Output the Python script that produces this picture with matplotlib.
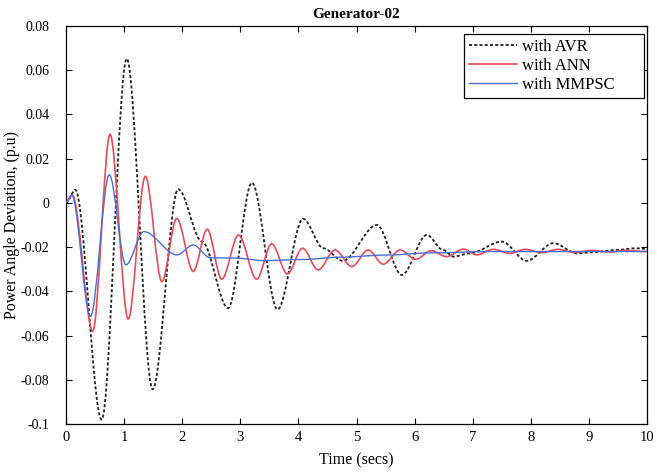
import matplotlib
matplotlib.use("Agg")
import matplotlib.pyplot as plt
from matplotlib.path import Path
from matplotlib.patches import PathPatch
from matplotlib.lines import Line2D

# turning points (time in s, deviation in p.u.)
avr_t = [0.0, 0.16, 0.614, 1.045, 1.49, 1.93, 2.34, 2.79, 3.20, 3.64, 4.08, 4.43,
         4.76, 5.35, 5.78, 6.21, 6.49, 6.67, 6.95, 7.50, 7.93, 8.39, 8.79, 9.10,
         9.50, 9.82, 10.0]
avr_v = [0.0, 0.0059, -0.098, 0.0652, -0.0843, 0.0062, -0.0175, -0.0476, 0.0091,
         -0.0482, -0.0072, -0.0205, -0.0262, -0.0100, -0.0326, -0.0145, -0.0213,
         -0.0243, -0.0228, -0.0175, -0.0262, -0.0182, -0.0228, -0.0222, -0.0212,
         -0.0205, -0.0208]

ann_t = [0.0, 0.11, 0.46, 0.757, 1.07, 1.365, 1.65, 1.905, 2.19, 2.43, 2.68, 2.97,
         3.28, 3.54, 3.81, 4.07, 4.34, 4.63, 4.92, 5.20, 5.46, 5.75, 6.02, 6.29,
         6.55, 6.84, 7.07, 7.35, 7.64, 7.90, 8.19, 8.47, 8.76, 9.05, 9.35, 9.65, 10.0]
ann_v = [0.0005, 0.0036, -0.058, 0.031, -0.0525, 0.012, -0.0356, -0.007, -0.031,
         -0.0119, -0.0345, -0.0145, -0.0345, -0.0185, -0.0321, -0.0205, -0.0303,
         -0.0213, -0.0288, -0.0213, -0.0277, -0.0213, -0.0255, -0.0216, -0.0243,
         -0.0209, -0.0235, -0.0210, -0.0228, -0.0210, -0.0225, -0.0210, -0.0225,
         -0.0215, -0.0222, -0.0215, -0.0220]

mmpsc_t = [0.0, 0.10, 0.42, 0.745, 1.03, 1.34, 1.91, 2.19, 2.48, 2.94, 3.40, 4.08,
           4.69, 5.50, 6.30, 7.30, 8.50, 10.0]
mmpsc_v = [0.0005, 0.0036, -0.0514, 0.0127, -0.028, -0.013, -0.0235, -0.019,
           -0.0248, -0.0250, -0.0261, -0.0256, -0.0246, -0.0236, -0.0226, -0.0220,
           -0.0220, -0.0220]

x_ticks = list(range(0, 11))
y_ticks = [0.08, 0.06, 0.04, 0.02, 0.0, -0.02, -0.04, -0.06, -0.08, -0.1]
y_labels = ["0.08", "0.06", "0.04", "0.02", "0", "-0.02", "-0.04", "-0.06", "-0.08", "-0.1"]


def smooth(t, v):
    # cubic segments with flat tangents at each turning point
    verts, codes = [(t[0], v[0])], [Path.MOVETO]
    for i in range(1, len(t)):
        d = (t[i] - t[i - 1]) / 3
        verts += [(t[i - 1] + d, v[i - 1]), (t[i] - d, v[i]), (t[i], v[i])]
        codes += [Path.CURVE4] * 3
    return Path(verts, codes)


plt.rcParams["font.family"] = ["Liberation Serif", "DejaVu Serif"]
fig = plt.figure(figsize=(6.57, 4.76), dpi=100)
ax = fig.add_axes([0.1005, 0.1092, 0.8843, 0.8362])

styles = [
    ("with AVR", avr_t, avr_v, dict(color="#222222", lw=1.3, linestyle=(0, (1.7, 1.2))), 2),
    ("with ANN", ann_t, ann_v, dict(color="#e84c56", lw=1.2, linestyle="-"), 3),
    ("with MMPSC", mmpsc_t, mmpsc_v, dict(color="#4a6ed0", lw=1.0, linestyle="-"), 4),
]
handles = []
for name, t, v, st, z in styles:
    ax.add_patch(PathPatch(smooth(t, v), fill=False, edgecolor=st["color"],
                           lw=st["lw"], linestyle=st["linestyle"], zorder=z))
    handles.append(Line2D([], [], label=name + "      ", **st))

ax.set_xlim(0, 10); ax.set_ylim(-0.1, 0.08)
ax.set_xticks(x_ticks)
ax.set_yticks(y_ticks); ax.set_yticklabels(y_labels)
ax.tick_params(direction="in", top=True, right=True, labelsize=10.5, length=4)
ax.tick_params(axis="y", pad=12, labelsize=10)
ax.tick_params(axis="x", pad=5)
for s in ax.spines.values():
    s.set_linewidth(0.9)

ax.set_title("Generator-02", fontsize=11, fontweight="bold", pad=6)
ax.set_xlabel("Time (secs)", fontsize=11.5, labelpad=6)
ax.set_ylabel("Power Angle Deviation, (p.u)", fontsize=11.5, labelpad=0.5)

leg = ax.legend(handles=handles, loc="upper right", bbox_to_anchor=(0.995, 0.98),
                borderaxespad=0, fontsize=12, frameon=True, fancybox=False,
                framealpha=1, edgecolor="black", handlelength=2.85,
                labelspacing=0.18, handletextpad=0.3, borderpad=0.3)
leg.get_frame().set_linewidth(0.9)

fig.savefig("out.png", dpi=100)
